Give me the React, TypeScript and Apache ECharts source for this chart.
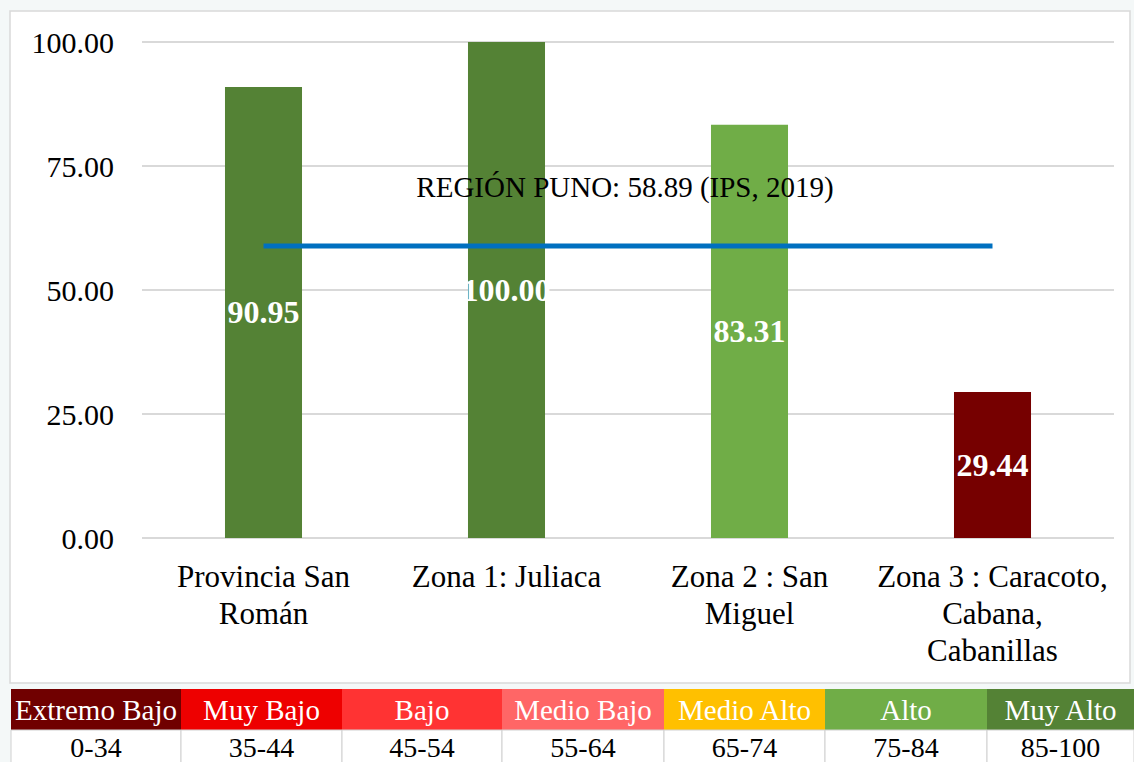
import React, { useEffect, useRef } from "react";
import * as echarts from "echarts";

const categories = [
  "Provincia San\nRomán",
  "Zona 1: Juliaca",
  "Zona 2 : San\nMiguel",
  "Zona 3 : Caracoto,\nCabana,\nCabanillas",
];
const values = [90.95, 100.0, 83.31, 29.44];
const barColors = ["#548235", "#548235", "#70ad47", "#760000"];
const regionValue = 58.89;
const regionLabel = "REGIÓN PUNO: 58.89 (IPS, 2019)";
const yTicks = [0, 25, 50, 75, 100];

const levelNames = ["Extremo Bajo", "Muy Bajo", "Bajo", "Medio Bajo", "Medio Alto", "Alto", "Muy Alto"];
const levelRanges = ["0-34", "35-44", "45-54", "55-64", "65-74", "75-84", "85-100"];
const levelColors = ["#700000", "#ee0000", "#ff3333", "#ff6666", "#ffc000", "#70ad47", "#548235"];

const FONT = "'Liberation Serif', 'Times New Roman', serif";

export default function App() {
  const ref = useRef<HTMLDivElement>(null);
  useEffect(() => {
    document.body.style.margin = "0";
    const chart = echarts.init(ref.current!, null, { renderer: "svg" });
    const bounds = [11, 181, 342, 502, 664, 825, 987, 1134];
    const tableGraphics: any[] = [];
    levelNames.forEach((n, i) => {
      const x0 = bounds[i];
      const w = bounds[i + 1] - x0;
      tableGraphics.push({
        type: "rect",
        shape: { x: x0, y: 689, width: w, height: 41 },
        style: { fill: levelColors[i] },
        silent: true,
      });
      tableGraphics.push({
        type: "rect",
        shape: { x: x0, y: 730, width: w, height: 40 },
        style: { fill: "#ffffff", stroke: "#d0d0d0", lineWidth: 1 },
        silent: true,
      });
      tableGraphics.push({
        type: "text",
        x: x0 + w / 2,
        y: 710,
        style: { text: n, fill: "#ffffff", font: `29px ${FONT}`, align: "center", verticalAlign: "middle" },
        silent: true,
      });
      tableGraphics.push({
        type: "text",
        x: x0 + w / 2,
        y: 747,
        style: { text: levelRanges[i], fill: "#000000", font: `28px ${FONT}`, align: "center", verticalAlign: "middle" },
        silent: true,
      });
    });

    chart.setOption({
      animation: false,
      backgroundColor: "#f4f8f8",
      grid: { left: 142, right: 20, top: 42, bottom: 224 },
      graphic: [
        {
          type: "rect",
          z: -10,
          shape: { x: 10, y: 11, width: 1120, height: 672 },
          style: { fill: "#ffffff", stroke: "#d9d9d9", lineWidth: 1.5 },
          silent: true,
        },
        {
          type: "text",
          x: 625,
          y: 187,
          z: 10,
          style: { text: regionLabel, fill: "#000000", font: `29px ${FONT}`, align: "center", verticalAlign: "middle" },
          silent: true,
        },
        ...tableGraphics,
      ],
      xAxis: {
        type: "category",
        data: categories,
        axisLine: { show: false },
        axisTick: { show: false },
        axisLabel: {
          color: "#000",
          fontFamily: FONT,
          fontSize: 31,
          lineHeight: 37,
          margin: 20,
          interval: 0,
          verticalAlign: "top",
        },
      },
      yAxis: {
        type: "value",
        min: 0,
        max: 100,
        interval: 25,
        axisLine: { show: false },
        axisTick: { show: false },
        splitLine: { lineStyle: { color: "#d9d9d9", width: 2 } },
        axisLabel: {
          color: "#000",
          fontFamily: FONT,
          fontSize: 30,
          margin: 28,
          formatter: (v: number) => (yTicks.includes(v) ? v.toFixed(2) : ""),
        },
      },
      series: [
        {
          type: "bar",
          barWidth: "31.7%",
          data: values.map((v, i) => ({ value: v, itemStyle: { color: barColors[i] } })),
          label: {
            show: true,
            position: "inside",
            color: "#ffffff",
            fontFamily: FONT,
            fontWeight: "bold",
            fontSize: 32,
            formatter: (p: any) => Number(p.value).toFixed(2),
          },
          z: 2,
        },
        {
          type: "line",
          data: categories.map(() => regionValue),
          symbol: "none",
          lineStyle: { color: "#0070c0", width: 5 },
          z: 5,
        },
      ],
    });
    return () => chart.dispose();
  }, []);
  return <div ref={ref} style={{ width: 1134, height: 762 }} />;
}
